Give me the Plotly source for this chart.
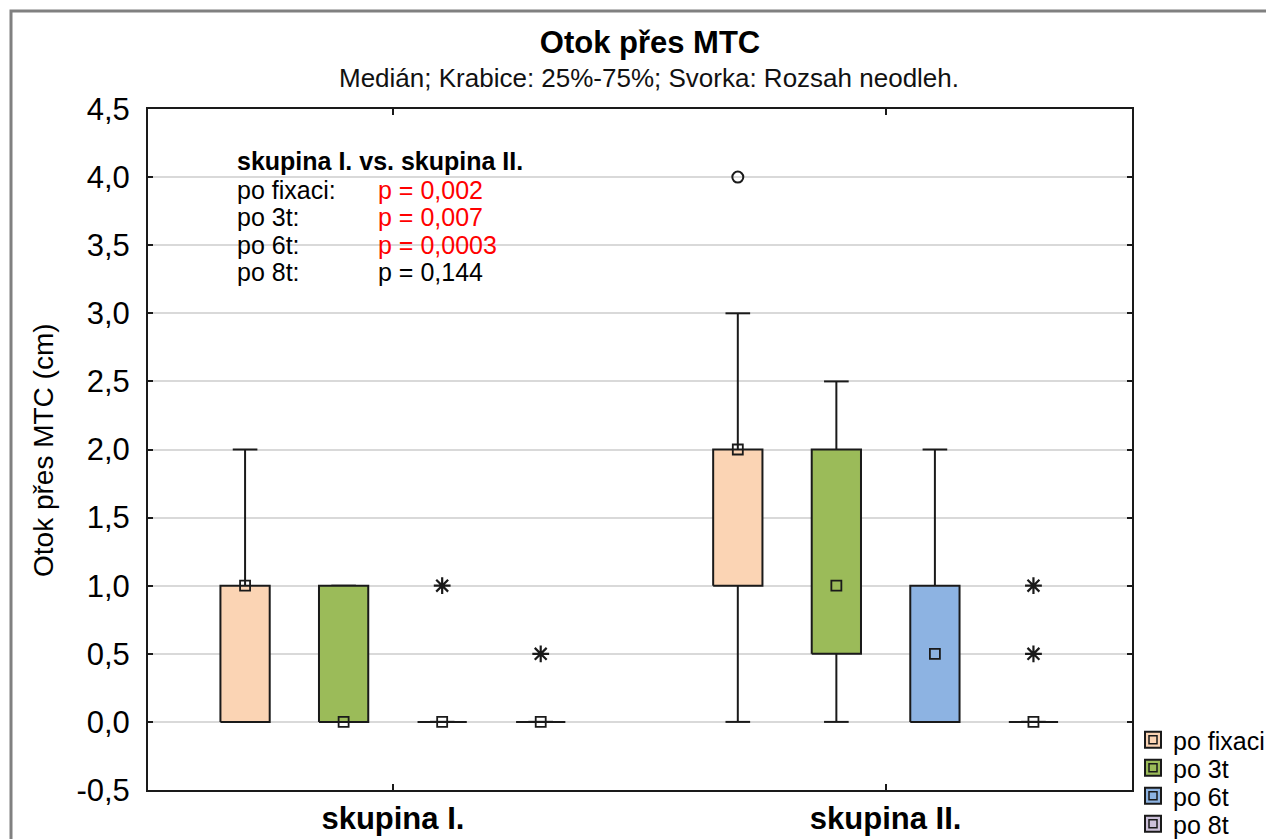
import plotly.graph_objects as go

# ---------------- data ----------------
groups = ["skupina I.", "skupina II."]
series = ["po fixaci", "po 3t", "po 6t", "po 8t"]
colors = ["#FBD4B4", "#9BBB59", "#8DB3E2", "#CCC0DA"]

median = [[1.0, 0.0, 0.0, 0.0], [2.0, 1.0, 0.5, 0.0]]
q1 = [[0.0, 0.0, 0.0, 0.0], [1.0, 0.5, 0.0, 0.0]]
q3 = [[1.0, 1.0, 0.0, 0.0], [2.0, 2.0, 1.0, 0.0]]
wmin = [[0.0, 0.0, 0.0, 0.0], [0.0, 0.0, 0.0, 0.0]]
wmax = [[2.0, 1.0, 0.0, 0.0], [3.0, 2.5, 2.0, 0.0]]
outliers = [[[], [], [], []], [[4.0], [], [], []]]
extremes = [[[], [], [1.0], [0.5]], [[], [], [], [0.5, 1.0]]]

ytick_vals = [-0.5, 0.0, 0.5, 1.0, 1.5, 2.0, 2.5, 3.0, 3.5, 4.0, 4.5]
ytick_text = ["-0,5", "0,0", "0,5", "1,0", "1,5", "2,0", "2,5", "3,0", "3,5", "4,0", "4,5"]

stat_header = "skupina I. vs. skupina II."
stat_labels = ["po fixaci:", "po 3t:", "po 6t:", "po 8t:"]
stat_pvals = ["p = 0,002", "p = 0,007", "p = 0,0003", "p = 0,144"]
stat_signif = [True, True, True, False]

# ---------------- layout geometry (screen pixels) ----------------
OFF = 8                       # page body margin
W, H = 1274 - OFF, 839 - OFF
SL, SR, ST, SB = 148, 1132, 109, 790   # plot area in screen px
L, R, T, B = SL - OFF, SR - OFF, ST - OFF, SB - OFF
BOXW = 0.25   # half width in x units
CAPW = 0.125
GROUP_STEP = 5


def px_x(px):
    return (px - SL) / (SR - SL)


def px_y(py):
    return (SB - py) / (SB - ST)


def pos(g, s):
    return g * GROUP_STEP + s


LINE = "#1a1a1a"
fig = go.Figure()

for g in range(len(groups)):
    for s in range(len(series)):
        x = pos(g, s)
        wx = [x, x, None, x - CAPW, x + CAPW, None, x, x, None, x - CAPW, x + CAPW]
        wy = [q3[g][s], wmax[g][s], None, wmax[g][s], wmax[g][s], None,
              q1[g][s], wmin[g][s], None, wmin[g][s], wmin[g][s]]
        fig.add_trace(go.Scatter(x=wx, y=wy, mode="lines",
                                 line=dict(color=LINE, width=2),
                                 showlegend=False, hoverinfo="skip"))
        bx = [x - BOXW, x + BOXW, x + BOXW, x - BOXW, x - BOXW]
        by = [q1[g][s], q1[g][s], q3[g][s], q3[g][s], q1[g][s]]
        fig.add_trace(go.Scatter(x=bx, y=by, mode="lines", fill="toself",
                                 fillcolor=colors[s],
                                 line=dict(color=LINE, width=2),
                                 showlegend=False, hoverinfo="skip"))

mx, my = [], []
for g in range(len(groups)):
    for s in range(len(series)):
        mx.append(pos(g, s))
        my.append(median[g][s])
fig.add_trace(go.Scatter(x=mx, y=my, mode="markers",
                         marker=dict(symbol="square-open", size=10, color=LINE,
                                     line=dict(width=1.8)),
                         showlegend=False, hoverinfo="skip"))

ox, oy, ex, ey = [], [], [], []
for g in range(len(groups)):
    for s in range(len(series)):
        for v in outliers[g][s]:
            ox.append(pos(g, s)); oy.append(v)
        for v in extremes[g][s]:
            ex.append(pos(g, s)); ey.append(v)
fig.add_trace(go.Scatter(x=ox, y=oy, mode="markers",
                         marker=dict(symbol="circle-open", size=11, color=LINE,
                                     line=dict(width=2)),
                         showlegend=False, hoverinfo="skip"))
fig.add_trace(go.Scatter(x=ex, y=ey, mode="markers",
                         marker=dict(symbol="asterisk-open", size=14, color=LINE,
                                     line=dict(width=2.2, color=LINE)),
                         showlegend=False, hoverinfo="skip"))

FONT = "Liberation Sans, Arial, sans-serif"

# legend: one legend per entry for exact spacing; outer coloured square plus
# inner open square overlay
legend_y = [740, 768, 796, 824]
legend_layout = {}
n = len(series)
for s in range(n):
    key_outer = "legend" if s == 0 else "legend%d" % (s + 1)
    key_inner = "legend%d" % (s + 1 + n)
    fig.add_trace(go.Scatter(x=[None], y=[None], mode="markers", name=series[s],
                             marker=dict(symbol="square", size=16, color=colors[s],
                                         line=dict(color=LINE, width=2)),
                             legend=key_outer))
    fig.add_trace(go.Scatter(x=[None], y=[None], mode="markers", name=series[s],
                             marker=dict(symbol="square-open", size=8, color=LINE,
                                         line=dict(width=1.5)),
                             legend=key_inner))
    for key, col in ((key_outer, "#000"), (key_inner, "rgba(0,0,0,0)")):
        legend_layout[key] = dict(
            x=px_x(1133), xanchor="left", y=px_y(legend_y[s]), yanchor="middle",
            font=dict(family=FONT, size=25, color=col),
            itemclick=False, itemdoubleclick=False,
            borderwidth=0, bgcolor="rgba(0,0,0,0)")

# statistics text block: header + two columns (labels, p values)
ROW_BASE = 21          # base size -> line spacing 1.3*21 = 27.3 px
ROW_SIZE = 25          # glyph size
row_center = (191 + 272) / 2
label_text = "<br>".join('<span style="font-size:%dpx">%s</span>' % (ROW_SIZE, t)
                         for t in stat_labels)
pval_text = "<br>".join(
    '<span style="font-size:%dpx;color:%s">%s</span>'
    % (ROW_SIZE, "#FF0000" if sig else "#000000", t)
    for t, sig in zip(stat_pvals, stat_signif))

annotations = [
    dict(text="Medián; Krabice: 25%-75%; Svorka: Rozsah neodleh.",
         xref="paper", yref="paper", x=px_x(649), y=px_y(78),
         xanchor="center", yanchor="middle", showarrow=False,
         font=dict(family=FONT, size=26, color="#111")),
    dict(text="<b>" + stat_header + "</b>", xref="paper", yref="paper",
         x=px_x(235), y=px_y(161), xanchor="left", yanchor="middle",
         showarrow=False, font=dict(family=FONT, size=25, color="#000")),
    dict(text=label_text, xref="paper", yref="paper", align="left",
         x=px_x(235), y=px_y(row_center), xanchor="left", yanchor="middle",
         showarrow=False, font=dict(family=FONT, size=ROW_BASE, color="#000")),
    dict(text=pval_text, xref="paper", yref="paper", align="left",
         x=px_x(376), y=px_y(row_center), xanchor="left", yanchor="middle",
         showarrow=False, font=dict(family=FONT, size=ROW_BASE, color="#000")),
    dict(text="Otok přes MTC (cm)", xref="paper", yref="paper",
         x=px_x(43), y=px_y(450), xanchor="center", yanchor="middle",
         textangle=-90, showarrow=False,
         font=dict(family=FONT, size=28, color="#000")),
]

shapes = [
    dict(type="rect", xref="paper", yref="paper",
         x0=px_x(11), x1=px_x(1300), y0=px_y(11), y1=px_y(880),
         line=dict(color="#808080", width=3), fillcolor="rgba(0,0,0,0)",
         layer="below"),
]

fig.update_layout(
    width=W, height=H,
    margin=dict(l=L, r=W - R, t=T, b=H - B, pad=0, autoexpand=False),
    paper_bgcolor="white", plot_bgcolor="white",
    title=dict(text="<b>Otok přes MTC</b>", x=px_x(650), xref="paper",
               xanchor="center", y=1 - (42 - OFF) / H, yref="container",
               yanchor="middle",
               font=dict(family=FONT, size=31, color="#000")),
    xaxis=dict(range=[-0.985, 9.0],
               tickvals=[g * GROUP_STEP + 1.5 for g in range(len(groups))],
               ticktext=["<b>" + g + "</b>" for g in groups],
               ticks="inside", ticklen=6, tickwidth=2, tickcolor=LINE,
               showline=True, linecolor=LINE, linewidth=2, mirror="ticks",
               showgrid=False, zeroline=False,
               tickfont=dict(family=FONT, size=31, color="#000")),
    yaxis=dict(range=[-0.5, 4.5], tickvals=ytick_vals, ticktext=ytick_text,
               ticks="inside", ticklen=5, tickwidth=2, tickcolor=LINE,
               showline=True, linecolor=LINE, linewidth=2, mirror="ticks",
               showgrid=True, gridcolor="#d9d9d9", gridwidth=2, zeroline=False,
               ticklabelstandoff=10,
               tickfont=dict(family=FONT, size=31, color="#000")),
    annotations=annotations,
    shapes=shapes,
    showlegend=True,
    **legend_layout,
)

fig.write_html("out.html")
